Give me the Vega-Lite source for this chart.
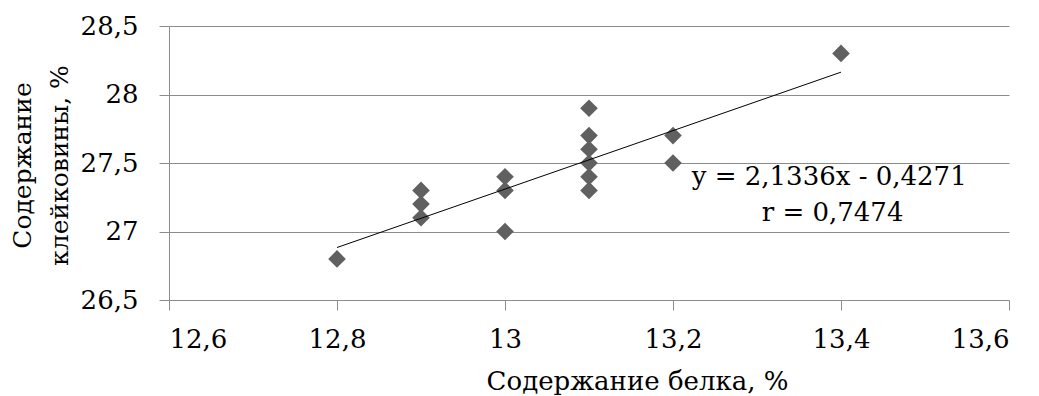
{
  "$schema": "https://vega.github.io/schema/vega-lite/v6.json",
  "width": 840,
  "height": 274,
  "autosize": {"type": "none"},
  "padding": {"left": 169, "top": 26, "right": 30, "bottom": 96},
  "background": "white",
  "datasets": {
    "points": [
      {"protein": 12.8, "gluten": 26.8},
      {"protein": 12.9, "gluten": 27.3},
      {"protein": 12.9, "gluten": 27.2},
      {"protein": 12.9, "gluten": 27.1},
      {"protein": 13.0, "gluten": 27.4},
      {"protein": 13.0, "gluten": 27.3},
      {"protein": 13.0, "gluten": 27.0},
      {"protein": 13.1, "gluten": 27.9},
      {"protein": 13.1, "gluten": 27.7},
      {"protein": 13.1, "gluten": 27.6},
      {"protein": 13.1, "gluten": 27.5},
      {"protein": 13.1, "gluten": 27.4},
      {"protein": 13.1, "gluten": 27.3},
      {"protein": 13.2, "gluten": 27.7},
      {"protein": 13.2, "gluten": 27.5},
      {"protein": 13.4, "gluten": 28.3}
    ],
    "trend": [
      {"protein": 12.8, "gluten": 26.883},
      {"protein": 13.4, "gluten": 28.163}
    ],
    "notes": [
      {"protein": 13.386, "gluten": 27.398, "label": "y = 2,1336x - 0,4271"},
      {"protein": 13.39, "gluten": 27.135, "label": "r = 0,7474"}
    ]
  },
  "layer": [
    {
      "data": {"name": "points"},
      "mark": {"type": "point", "shape": "diamond", "filled": true, "size": 310, "color": "#606060", "opacity": 1},
      "encoding": {
        "x": {
          "field": "protein", "type": "quantitative",
          "scale": {"domain": [12.6, 13.6], "nice": false, "zero": false},
          "axis": {
            "values": [12.6, 12.8, 13.0, 13.2, 13.4, 13.6],
            "labelExpr": "replace(format(datum.value, '.1~f'), '.', ',')",
            "grid": false,
            "domainColor": "#8c8c8c", "tickColor": "#8c8c8c", "tickSize": 10,
            "labelFont": "DejaVu Serif", "labelFontSize": 26, "labelColor": "#000000",
            "labelBaseline": "alphabetic", "labelPadding": 37,
            "title": "Содержание белка, %",
            "titleFont": "DejaVu Serif", "titleFontSize": 26, "titleFontWeight": "normal", "titleColor": "#000000",
            "titleBaseline": "alphabetic", "titleAlign": "center", "titleX": 468, "titleY": 89
          }
        },
        "y": {
          "field": "gluten", "type": "quantitative",
          "scale": {"domain": [26.5, 28.5], "nice": false, "zero": false},
          "axis": {
            "values": [26.5, 27, 27.5, 28, 28.5],
            "labelExpr": "replace(format(datum.value, '.1~f'), '.', ',')",
            "grid": true, "gridColor": "#8c8c8c", "gridWidth": 1,
            "domainColor": "#8c8c8c", "tickColor": "#8c8c8c", "tickSize": 10,
            "labelFont": "DejaVu Serif", "labelFontSize": 26, "labelColor": "#000000",
            "labelPadding": 21,
            "title": ["Содержание", "клейковины, %"],
            "titleFont": "DejaVu Serif", "titleFontSize": 25, "titleFontWeight": "normal", "titleColor": "#000000",
            "titleLineHeight": 37, "titleBaseline": "bottom", "titleAlign": "center",
            "titleX": -134, "titleY": 139
          }
        }
      }
    },
    {
      "data": {"name": "trend"},
      "mark": {"type": "line", "color": "#000000", "strokeWidth": 1},
      "encoding": {
        "x": {"field": "protein", "type": "quantitative"},
        "y": {"field": "gluten", "type": "quantitative"}
      }
    },
    {
      "data": {"name": "notes"},
      "mark": {"type": "text", "font": "DejaVu Serif", "fontSize": 26, "color": "#000000", "align": "center", "baseline": "middle"},
      "encoding": {
        "x": {"field": "protein", "type": "quantitative"},
        "y": {"field": "gluten", "type": "quantitative"},
        "text": {"field": "label"}
      }
    }
  ],
  "config": {
    "axis": {"domainWidth": 1, "tickWidth": 1},
    "view": {"stroke": null}
  }
}
